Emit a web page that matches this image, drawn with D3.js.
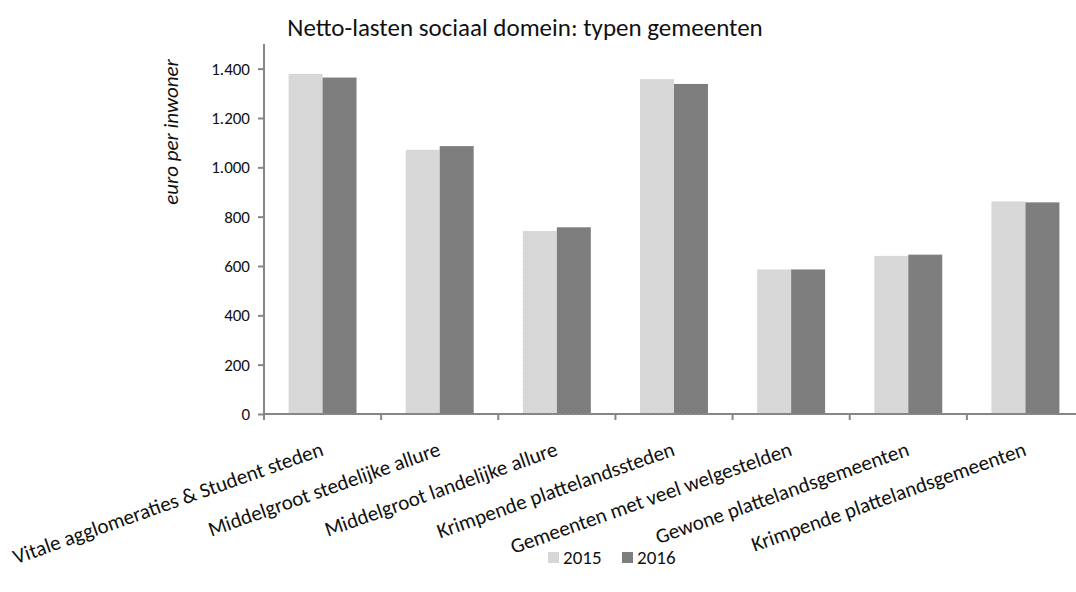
<!DOCTYPE html>
<html>
<head>
<meta charset="utf-8">
<script src="https://cdn.jsdelivr.net/npm/d3@7"></script>
<style>
  html, body { margin: 0; padding: 0; background: #fff; }
  svg { display: block; }
  text { font-family: Carlito, Lato, "Liberation Sans", sans-serif; fill: #111; }
</style>
</head>
<body>
<svg id="chart" width="1076" height="592"></svg>
<script>
// Municipality types (x axis)
const categories = [
  "Vitale agglomeraties & Student steden",
  "Middelgroot stedelijke allure",
  "Middelgroot landelijke allure",
  "Krimpende plattelandssteden",
  "Gemeenten met veel welgestelden",
  "Gewone plattelandsgemeenten",
  "Krimpende plattelandsgemeenten"
];
// Net social-domain costs, euro per inhabitant
const series = ["2015", "2016"];
const values2015 = [1379, 1071, 742, 1358, 586, 641, 862];
const values2016 = [1364, 1086, 757, 1338, 586, 646, 858];
const yTicks = [0, 200, 400, 600, 800, 1000, 1200, 1400];
const colors = ["#d9d9d9", "#7f7f7f"];
const speckle = ["#cdcdcd", "#737373"];

const svg = d3.select("#chart");
const mLeft = 264, mRight = 1084, mTop = 44, mBottom = 414;

// Fine speckled fills for the two series
const defs = svg.append("defs");
colors.forEach((c, k) => {
  const p = defs.append("pattern").attr("id", "fill" + k)
    .attr("patternUnits", "userSpaceOnUse").attr("width", 4).attr("height", 4);
  p.append("rect").attr("width", 4).attr("height", 4).attr("fill", c);
  p.append("rect").attr("x", 0).attr("y", 0).attr("width", 1).attr("height", 1).attr("fill", speckle[k]);
  p.append("rect").attr("x", 2).attr("y", 2).attr("width", 1).attr("height", 1).attr("fill", speckle[k]);
});

const nl = d3.formatLocale({ decimal: ",", thousands: ".", grouping: [3], currency: ["€", ""] });
const fmt = nl.format(",");

const y = d3.scaleLinear().domain([0, 1500]).range([mBottom, mTop]);
const x = d3.scaleBand().domain(categories).range([mLeft, mRight])
  .paddingInner(0.42).paddingOuter(0.21);
const xs = d3.scaleBand().domain(series).range([0, x.bandwidth()]);

const rows = categories.map((c, i) => ({ cat: c, vals: [values2015[i], values2016[i]] }));

// Bars
const g = svg.append("g");
g.selectAll("g.grp").data(rows).join("g")
  .attr("class", "grp")
  .attr("transform", d => `translate(${x(d.cat)},0)`)
  .selectAll("rect").data(d => d.vals.map((v, k) => ({ s: series[k], v, k })))
  .join("rect")
  .attr("x", d => xs(d.s))
  .attr("width", xs.bandwidth())
  .attr("y", d => y(d.v))
  .attr("height", d => y(0) - y(d.v))
  .attr("fill", d => `url(#fill${d.k})`);

// Y axis
const yAxis = svg.append("g")
  .attr("transform", `translate(${mLeft},0)`)
  .call(d3.axisLeft(y).tickValues(yTicks).tickFormat(fmt).tickSize(6).tickPadding(8));
yAxis.select(".domain").attr("stroke", "#868686").attr("stroke-width", 2)
  .attr("d", `M0,${mBottom}V${mTop}`);
yAxis.selectAll(".tick line").attr("stroke", "#868686").attr("stroke-width", 2);
yAxis.selectAll(".tick text").style("font-size", "17px").style("fill", "#111")
  .style("font-family", "Carlito, Lato, 'Liberation Sans', sans-serif");

// X axis with boundary ticks between categories
const xAxis = svg.append("g").attr("transform", `translate(0,${mBottom})`);
xAxis.append("line").attr("x1", mLeft).attr("x2", mRight).attr("y1", 0).attr("y2", 0)
  .attr("stroke", "#868686").attr("stroke-width", 2);
const step = x.step();
xAxis.selectAll("line.b").data(d3.range(categories.length + 1)).join("line")
  .attr("class", "b")
  .attr("x1", i => mLeft + i * step).attr("x2", i => mLeft + i * step)
  .attr("y1", 0).attr("y2", 6)
  .attr("stroke", "#868686").attr("stroke-width", 2);

// Rotated category labels, right end under the centre of each group
xAxis.selectAll("text.cat").data(categories).join("text")
  .attr("class", "cat")
  .attr("transform", c => `translate(${x(c) + x.bandwidth() / 2 + 2},41) rotate(-19.5)`)
  .attr("text-anchor", "end")
  .style("font-size", "21px")
  .text(c => c);

// Y axis title
svg.append("text")
  .attr("transform", `translate(178,132) rotate(-90)`)
  .attr("text-anchor", "middle")
  .style("font-size", "21px")
  .style("font-style", "italic")
  .text("euro per inwoner");

// Title
svg.append("text")
  .attr("x", 525).attr("y", 36)
  .attr("text-anchor", "middle")
  .style("font-size", "25px")
  .text("Netto-lasten sociaal domein: typen gemeenten");

// Legend
const legend = svg.append("g").attr("transform", "translate(548,552)");
const li = legend.selectAll("g").data(series).join("g")
  .attr("transform", (d, i) => `translate(${i * 74},0)`);
li.append("rect").attr("width", 11).attr("height", 11).attr("fill", (d, i) => `url(#fill${i})`);
li.append("text").attr("x", 15).attr("y", 12).style("font-size", "19px").text(d => d);
</script>
</body>
</html>
